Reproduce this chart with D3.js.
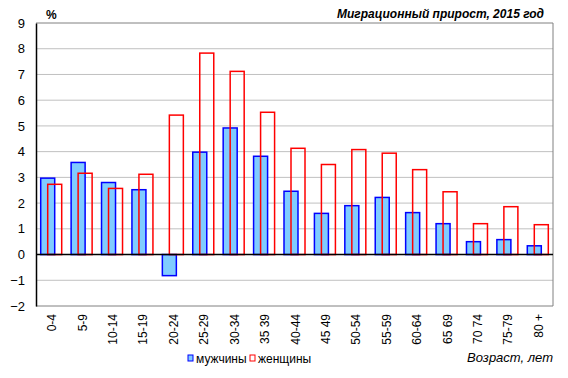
<!DOCTYPE html>
<html>
<head>
<meta charset="utf-8">
<script src="https://cdn.jsdelivr.net/npm/d3@7"></script>
<style>
  body { margin: 0; background: #fff; }
  svg { font-family: "Liberation Sans", Arial, sans-serif; }
</style>
</head>
<body>
<div id="chart"></div>
<script>
// age groups
const ages = ["0-4", "5-9", "10-14", "15-19", "20-24", "25-29", "30-34", "35 39", "40-44",
  "45 49", "50-54", "55-59", "60-64", "65 69", "70 74", "75-79", "80 +"];
// men, %
const men = [2.97, 3.58, 2.8, 2.52, -0.82, 3.98, 4.92, 3.82, 2.46, 1.6, 1.9, 2.22, 1.63, 1.2, 0.5, 0.58, 0.34];
// women, %
const women = [2.73, 3.16, 2.57, 3.12, 5.42, 7.83, 7.12, 5.53, 4.13, 3.5, 4.08, 3.94, 3.3, 2.44, 1.2, 1.86, 1.16];
const yTicks = [-2, -1, 0, 1, 2, 3, 4, 5, 6, 7, 8, 9];

const W = 568, H = 378;
const pLeft = 36, pRight = 553, pTop = 23, pBottom = 306;

const svg = d3.select("#chart").append("svg")
  .attr("width", W).attr("height", H);

const x = d3.scaleBand().domain(ages).range([pLeft, pRight]);
const y = d3.scaleLinear().domain([-2, 9]).range([pBottom, pTop]);

const bw = 14, off = 7;

// gridlines
svg.append("g").selectAll("line")
  .data(yTicks.filter(d => d != 0 && d != -2 && d != 9))
  .enter().append("line")
  .attr("x1", pLeft).attr("x2", pRight)
  .attr("y1", d => y(d)).attr("y2", d => y(d))
  .attr("stroke", "#c0c0c0").attr("stroke-width", 1);

// frame (top, right, bottom gray)
svg.append("path")
  .attr("d", `M${pLeft},${y(9)}H${pRight}V${y(-2)}H${pLeft}`)
  .attr("fill", "none").attr("stroke", "#808080").attr("stroke-width", 1);

// men bars
const grpStart = d => x(d) + (x.bandwidth() - bw - off) / 2;
svg.append("g").selectAll("rect")
  .data(men)
  .enter().append("rect")
  .attr("x", (d, i) => grpStart(ages[i]))
  .attr("y", d => y(Math.max(0, d)))
  .attr("width", bw)
  .attr("height", d => Math.abs(y(d) - y(0)))
  .attr("fill", "#80ccff")
  .attr("stroke", "#0000ff").attr("stroke-width", 1.5);

// women bars
svg.append("g").selectAll("rect")
  .data(women)
  .enter().append("rect")
  .attr("x", (d, i) => grpStart(ages[i]) + off)
  .attr("y", d => y(Math.max(0, d)))
  .attr("width", bw)
  .attr("height", d => Math.abs(y(d) - y(0)))
  .attr("fill", "none")
  .attr("stroke", "#ff0000").attr("stroke-width", 1.5);

// zero line and left axis
svg.append("line")
  .attr("x1", pLeft).attr("x2", pRight)
  .attr("y1", y(0)).attr("y2", y(0))
  .attr("stroke", "#000").attr("stroke-width", 1.5);

const yAxis = svg.append("g")
  .attr("transform", "translate(" + pLeft + ",0)")
  .call(d3.axisLeft(y).tickValues(yTicks).tickSize(0).tickFormat(d3.format("d")));
yAxis.select(".domain").attr("stroke", "#000").attr("stroke-width", 1.5);
yAxis.selectAll(".tick line").remove();
yAxis.selectAll("text").attr("font-size", 13).attr("x", -11)
  .attr("font-family", "Liberation Sans, Arial, sans-serif").attr("fill", "#000");

// x labels (rotated)
svg.append("g").selectAll("text")
  .data(ages)
  .enter().append("text")
  .attr("transform", d => "translate(" + (x(d) + x.bandwidth() / 2 + 5) + "," + 314 + ") rotate(-90)")
  .attr("text-anchor", "end")
  .attr("font-size", 12)
  .text(d => d);

// % label
svg.append("text")
  .attr("x", 46).attr("y", 19)
  .attr("font-size", 12).attr("font-weight", "bold")
  .text("%");

// title
svg.append("text")
  .attr("x", 544).attr("y", 18)
  .attr("text-anchor", "end")
  .attr("font-size", 12).attr("font-weight", "bold").attr("font-style", "italic")
  .text("Миграционный  прирост, 2015 год");

// axis title
svg.append("text")
  .attr("x", 553).attr("y", 362)
  .attr("text-anchor", "end")
  .attr("font-size", 13).attr("font-style", "italic")
  .text("Возраст, лет");

// legend
const legend = [
  {name: "мужчины", fill: "#80ccff", stroke: "#0000ff", x: 188},
  {name: "женщины", fill: "#fff", stroke: "#ff0000", x: 250}
];
const lg = svg.append("g").selectAll("g")
  .data(legend).enter().append("g");
lg.append("rect")
  .attr("x", d => d.x).attr("y", 355)
  .attr("width", 5).attr("height", 6)
  .attr("fill", d => d.fill).attr("stroke", d => d.stroke).attr("stroke-width", 1);
lg.append("text")
  .attr("x", d => d.x + 8).attr("y", 363)
  .attr("font-size", 12)
  .text(d => d.name);
</script>
</body>
</html>
